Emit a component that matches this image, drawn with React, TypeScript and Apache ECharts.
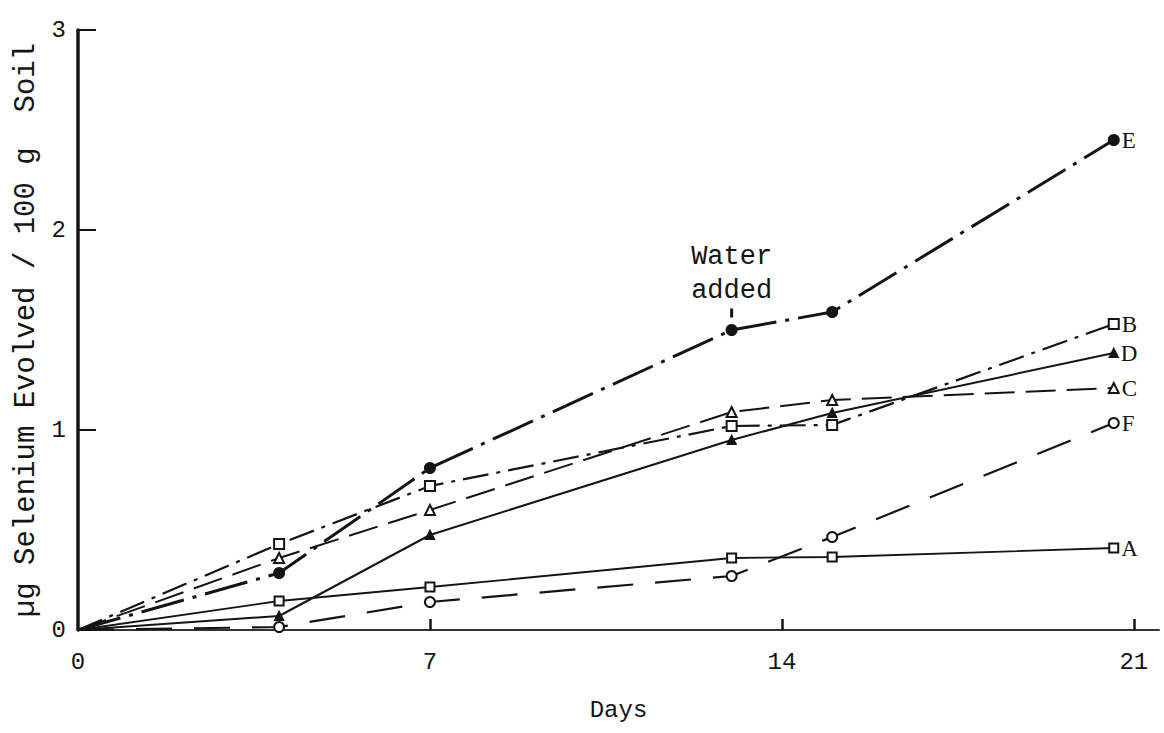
import React, { useEffect, useRef } from "react";
import * as echarts from "echarts";

const days = [0, 4, 7, 13, 15, 20.6];
const seriesE = [0, 0.285, 0.81, 1.5, 1.59, 2.45];
const seriesB = [0, 0.43, 0.72, 1.02, 1.025, 1.53];
const seriesC = [0, 0.36, 0.6, 1.09, 1.15, 1.21];
const seriesD = [0, 0.07, 0.475, 0.95, 1.085, 1.385];
const seriesA = [0, 0.145, 0.215, 0.36, 0.365, 0.41];
const seriesF = [0, 0.015, 0.14, 0.27, 0.465, 1.035];
const xTickLabels = [0, 7, 14, 21];
const yTickLabels = [0, 1, 2, 3];

const INK = "#141414";
const MONO = "'Liberation Mono', 'DejaVu Sans Mono', monospace";
const SERIF = "'Liberation Serif', 'DejaVu Serif', serif";

type Spec = {
  name: string;
  values: number[];
  symbol: string;
  size: number;
  filled: boolean;
  dash: any;
  width: number;
};

const specs: Spec[] = [
  { name: "E", values: seriesE, symbol: "circle", size: 10, filled: true, dash: [44, 9, 4, 9], width: 3 },
  { name: "B", values: seriesB, symbol: "rect", size: 10, filled: false, dash: [26, 8, 4, 8], width: 2.2 },
  { name: "D", values: seriesD, symbol: "triangle", size: 8, filled: true, dash: "solid", width: 2 },
  { name: "C", values: seriesC, symbol: "triangle", size: 10, filled: false, dash: [30, 11], width: 2 },
  { name: "F", values: seriesF, symbol: "circle", size: 10, filled: false, dash: [36, 22], width: 2.2 },
  { name: "A", values: seriesA, symbol: "rect", size: 9, filled: false, dash: "solid", width: 1.8 },
];

export default function App() {
  const ref = useRef<HTMLDivElement>(null);
  useEffect(() => {
    if (!ref.current) return;
    const chart = echarts.init(ref.current, null, { renderer: "svg" });
    const series: any[] = specs.map((s) => {
      const last = s.values.length - 1;
      const data = s.values.map((v, i) => {
        const item: any = { value: [days[i], v] };
        if (i === 0) item.symbol = "none";
        if (i === last) {
          item.label = {
            show: true,
            formatter: s.name,
            position: "right",
            distance: 2,
            fontFamily: SERIF,
            fontSize: 23,
            color: INK,
          };
        }
        return item;
      });
      const ser: any = {
        name: s.name,
        type: "line",
        data,
        symbol: s.symbol,
        symbolSize: s.size,
        showAllSymbol: true,
        lineStyle: { color: INK, width: s.width, type: s.dash },
        itemStyle: {
          color: s.filled ? INK : "#fff",
          borderColor: INK,
          borderWidth: 2,
        },
        z: 3,
      };
      if (s.name === "E") {
        ser.markPoint = {
          symbol: "rect",
          symbolSize: [3, 9],
          symbolOffset: [0, -17],
          itemStyle: { color: INK },
          data: [
            {
              coord: [13, 1.5],
              label: {
                show: true,
                position: "top",
                distance: 1,
                formatter: "Water\nadded",
                fontFamily: MONO,
                fontSize: 27,
                lineHeight: 34,
                color: INK,
                align: "center",
              },
            },
          ],
        };
      }
      return ser;
    });

    chart.setOption({
      animation: false,
      backgroundColor: "#ffffff",
      grid: { left: 78, right: 5, top: 30, bottom: 103 },
      xAxis: {
        type: "value",
        min: 0,
        max: 21.5,
        interval: 7,
        name: "Days",
        nameLocation: "middle",
        nameGap: 68,
        nameTextStyle: { fontFamily: MONO, fontSize: 24, color: INK },
        splitLine: { show: false },
        axisLine: { show: true, lineStyle: { color: "#333", width: 2 } },
        axisTick: {
          show: true,
          inside: true,
          length: 11,
          lineStyle: { color: INK, width: 2.5 },
          customValues: [7, 14, 21],
        },
        axisLabel: {
          customValues: xTickLabels,
          margin: 20,
          fontFamily: MONO,
          fontSize: 24,
          color: INK,
        },
      },
      yAxis: {
        type: "value",
        min: 0,
        max: 3,
        interval: 1,
        name: "\u00b5g Selenium Evolved / 100 g  Soil",
        nameLocation: "middle",
        nameGap: 36,
        nameRotate: 90,
        nameTextStyle: { fontFamily: MONO, fontSize: 29, color: INK },
        splitLine: { show: false },
        axisLine: { show: true, lineStyle: { color: INK, width: 3.5 } },
        axisTick: {
          show: true,
          inside: true,
          length: 18,
          lineStyle: { color: INK, width: 2 },
          customValues: [1, 2, 3],
        },
        axisLabel: {
          customValues: yTickLabels,
          margin: 12,
          fontFamily: MONO,
          fontSize: 24,
          color: INK,
        },
      },
      series,
    });
    return () => chart.dispose();
  }, []);
  return (
    <div
      ref={ref}
      style={{ position: "absolute", left: 0, top: 0, width: 1164, height: 733, background: "#fff" }}
    />
  );
}
